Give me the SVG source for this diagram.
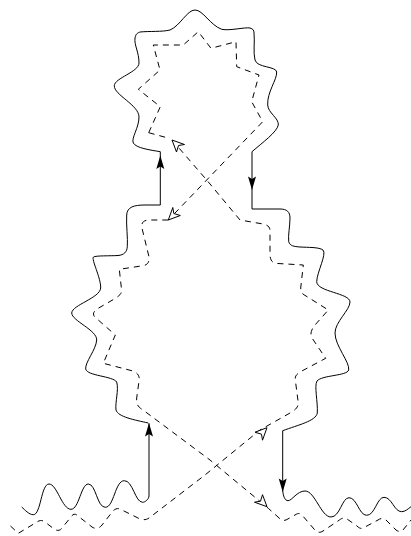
<svg xmlns="http://www.w3.org/2000/svg" width="411" height="536" viewBox="0 0 411 536">
<style>
.s{fill:none;stroke:#000;stroke-width:1}
.d{fill:none;stroke:#000;stroke-width:1;stroke-dasharray:6 5}
.f{fill:#000;stroke:none}
.o{fill:#fff;stroke:#000;stroke-width:1}
</style>
<defs>
<path id="filled" class="f" d="M0 0L4 13.5L0 11L-4 13.5Z"/>
<path id="open" class="o" d="M0 0L12.5 4.5L6.5 5.5L4.5 12Z"/>
</defs>
<rect width="411" height="536" fill="#fff"/>
<g id="connectors">
<path class="s" d="M160.3 151.7C150 150 136 148 133.3 143C131 138 139 128 139 117C139 105 114 95 114.3 85.7C114.5 78 139 72 139 63C139 52 134 45 135 38C136 33 138 33 140 32C150 31 162 32 170 30C180 26 187 10 195 10C203 10 210 25 221.7 29.3C230 31 245 27 250 28C253 29 254 30 254 33C255 42 253 52 255 60C257 68 276 66 276.7 72C277 80 267 92 267.7 105C268 113 279 118 278.3 125C277 132 262 143 252 151.7"/>
<path class="s" d="M160.3 151.7V205"/>
<path class="s" d="M252 151.7V209"/>
<path class="s" d="M160.3 205H145C134 205 127 207 126.7 215C126 225 128 238 127.3 246.7C127 252 124 255 118 255.5C110 256 96 255.5 93.5 257C91 259 101 278 100.7 288C100 298 72 305 71.7 313C72 321 97 330 96.7 340C96 350 85 362 85.7 369C87 376 113 376 116.7 382C119 390 115 402 116 410C118 417 135 420 148.3 423"/>
<path class="s" d="M252 209H280C287 209 290 212 290 218C290 226 288 235 288.7 241.7C290 246 294 246.5 300 247C308 247.5 319 247 323 250C327 254 317 272 316.7 281.7C317 292 350 293 350 302C350 310 335 322 335 333C335 346 350 362 348.7 370C347 376 322 375 317 381C314 386 318 402 317.3 413C316 421 298 425 282.7 430.7"/>
<path class="s" d="M282.7 430.7V490C283 496 285 500.7 288 500.7C292 500.7 297 491 305 491C315 491 321 517 331 517C340 517 342 497.7 349 497.7C357 497.7 359 515.3 366.7 515.3C375 515.3 377 497.3 384 497.3C392 497.3 394 511.7 401.7 511.7C405 511.7 408 509 411 506.7"/>
<path class="s" d="M21.7 507C25 510 29 514.7 33.3 514.7C41 514.7 41 484 49 484C57 484 62 509.3 71 509.3C79 509.3 81 484 88.3 484C96 484 97 507.3 105.3 507.3C114 507.3 115 480.7 124.3 480.7C133 480.7 135 502.3 142.7 502.3C145 502.3 149 499 149 496V423.3"/>
<path class="d" d="M148.7 132.7L168 138"/>
<path class="d" d="M148.7 132.7L160.3 106.7L138.3 89.3L160 70L153.3 45H183.3L198.3 31.7L211 48.3L236 41.7L236.7 66.7L259 75L251.7 101.7L262.7 121.7L206.7 180L168.3 220"/>
<path class="d" d="M172 140L206.7 180L240 220L263 224C268 225 270 227 270 231L270 256C271 262 273 263 278 263.5L303.3 265L300.7 288C301 294 303 294 306 296L328.3 310L315 325C311 330 310 334 312 338L325.7 358.3L300 372C296 375 295 376 295.3 380L298.3 403C298 408 295 410 290 413L260 430L205 475L149 518C146 520 144 520 140 519L120 509C117 508 115 509 113 511L102 525C99 529 95 529 92 527L78 516C75 513 73 514 71 517L62 528C60 531 57 531 54 529L45 522C42 520 40 520 37 522L18.3 533.3L8.3 524"/>
<path class="d" d="M168.3 220H150C144 220 141.5 222 141.7 227L149.3 258C149 263 147 265 143 265.7L119.3 269.3L121.7 291C121 294 120 295 116 298L97 309C93 312 92 315 96 318L115.3 335L103.3 363.3L131 370.5C136 372 139 374 139.3 379L136.7 398C136 404 138 407 143 410L210 460L268.3 508.3L278 517C281 520 283 521 286 520L295 515C298 513 300 513 302 515L314 529C317 533 320 533 323 531L338 521C342 518 344 517 347 519L357 526C360 529 362 529 365 527L378 520C381 518 383 518 386 520L396 530C399 532 401 532 403 530L411 520"/>
</g>
<g id="arrowheads">
<use href="#filled" transform="translate(160.3 155.5)"/>
<use href="#filled" transform="translate(252 190) rotate(180)"/>
<use href="#filled" transform="translate(149 423)"/>
<use href="#filled" transform="translate(282.7 492) rotate(180)"/>
<use href="#open" transform="translate(172 140)"/>
<use href="#open" transform="translate(168.3 220) rotate(-90)"/>
<use href="#open" transform="translate(267 427.7) rotate(90)"/>
<use href="#open" transform="translate(267 506.7) rotate(180)"/>
</g>
</svg>
